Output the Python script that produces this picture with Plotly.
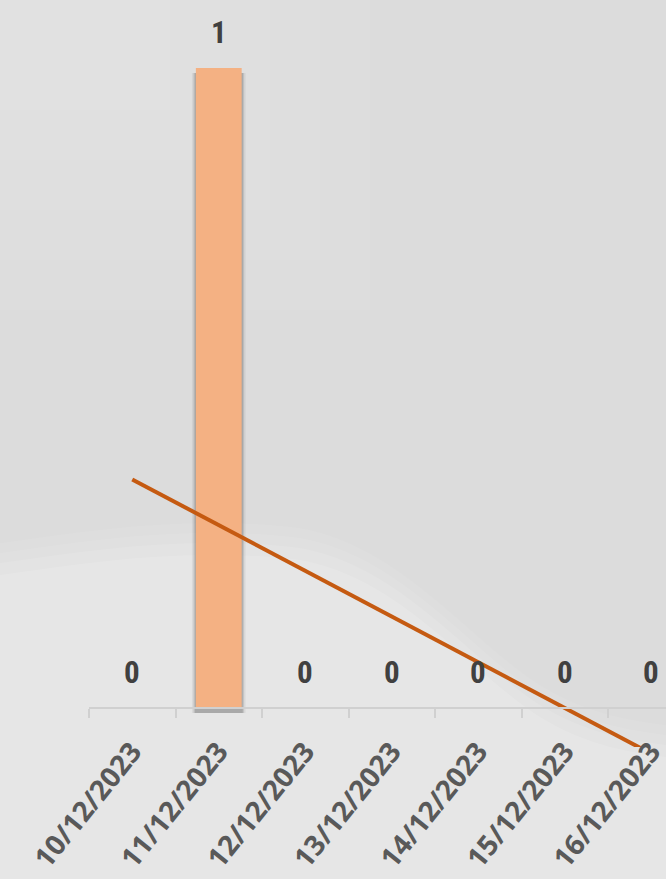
import numpy as np
import plotly.graph_objects as go

dates = ["10/12/2023", "11/12/2023", "12/12/2023", "13/12/2023",
         "14/12/2023", "15/12/2023", "16/12/2023"]
counts = [0, 1, 0, 0, 0, 0, 0]

W, H = 666, 879
L, R, T, B = 89, 0, 10, 132

FONT = "Liberation Sans Narrow, Roboto Condensed, Arial Narrow, Liberation Sans, sans-serif"
TICKFONT = "Open Sans, Liberation Sans, sans-serif"

# linear trendline (least squares) over category index
xi = np.arange(1, len(counts) + 1)
slope, intercept = np.polyfit(xi, counts, 1)
trend = (slope * xi + intercept).tolist()

fig = go.Figure()

# soft shadow behind the bars
for w, a in [(0.62, 0.07), (0.585, 0.12), (0.555, 0.18)]:
    fig.add_trace(go.Bar(
        x=dates, y=counts, width=w, base=-0.008,
        marker=dict(color=f"rgba(50,50,50,{a})", line=dict(width=0)),
        hoverinfo="skip", showlegend=False,
    ))
fig.add_trace(go.Bar(
    x=dates, y=counts, width=0.53,
    marker=dict(color="#F4B183", line=dict(width=0)),
    showlegend=False,
))
fig.add_trace(go.Scatter(
    x=dates, y=trend, mode="lines",
    line=dict(color="#C55A11", width=4),
    showlegend=False, hoverinfo="skip",
))

annotations = []
for d, v in zip(dates, counts):
    annotations.append(dict(
        x=d, y=v, xref="x", yref="y", text=str(v), showarrow=False,
        yshift=36, yanchor="middle",
        font=dict(family=FONT, size=31, color="#404040", weight="bold"),
    ))

plot_h = H - T - B
axis_pos = (747 - 708) / plot_h

def px(xp):
    return (xp - L) / (W - L - R)

def py(yp):
    return (H - B - yp) / plot_h

def light_path(dy):
    return (f"M {px(0)},{py(563 + dy)} "
            f"C {px(100)},{py(548 + dy)} {px(200)},{py(535 + dy)} {px(300)},{py(548 + dy)} "
            f"C {px(400)},{py(565 + dy)} {px(470)},{py(660 + dy)} {px(540)},{py(705 + dy)} "
            f"C {px(590)},{py(735 + dy)} {px(630)},{py(740 + dy)} {px(666)},{py(745 + dy)} "
            f"L {px(666)},{py(879)} L {px(0)},{py(879)} Z")

shapes = []
# gentle top-left highlight (layered translucent white)
for k in range(6):
    shapes.append(dict(type="rect", xref="paper", yref="paper",
                       x0=px(0), x1=px(120 + 50 * k), y0=py(60 + 50 * k), y1=py(0),
                       fillcolor="rgba(255,255,255,0.03)", line=dict(width=0),
                       layer="below"))
for dy, a in [(-20, 0.06), (-10, 0.08), (0, 0.1), (12, 0.12)]:
    shapes.append(dict(type="path", path=light_path(dy), xref="paper", yref="paper",
                       fillcolor=f"rgba(255,255,255,{a})", line=dict(width=0),
                       layer="below"))

fig.update_layout(
    width=W, height=H,
    margin=dict(l=L, r=R, t=T, b=B, autoexpand=False),
    paper_bgcolor="#dcdcdc",
    plot_bgcolor="rgba(0,0,0,0)",
    barmode="overlay",
    showlegend=False,
    annotations=annotations,
    shapes=shapes,
    xaxis=dict(
        type="category", range=[-0.5, 6.17],
        anchor="free", position=axis_pos,
        showline=True, linecolor="#d0d0d0", linewidth=2,
        ticks="outside", tickson="boundaries", ticklen=9,
        tickcolor="#d0d0d0", tickwidth=1.5,
        tickangle=-51, ticklabelstandoff=15,
        tickfont=dict(family=TICKFONT, size=28, color="#595959", weight="bold"),
        showgrid=False, zeroline=False, automargin=False,
    ),
    yaxis=dict(
        range=[-39 / 640, (708 - T) / 640],
        visible=False, showgrid=False, zeroline=False,
    ),
)

fig.write_html("out.html", config={"displayModeBar": False},
               post_script="document.body.style.margin='0';document.documentElement.style.overflow='hidden';")
